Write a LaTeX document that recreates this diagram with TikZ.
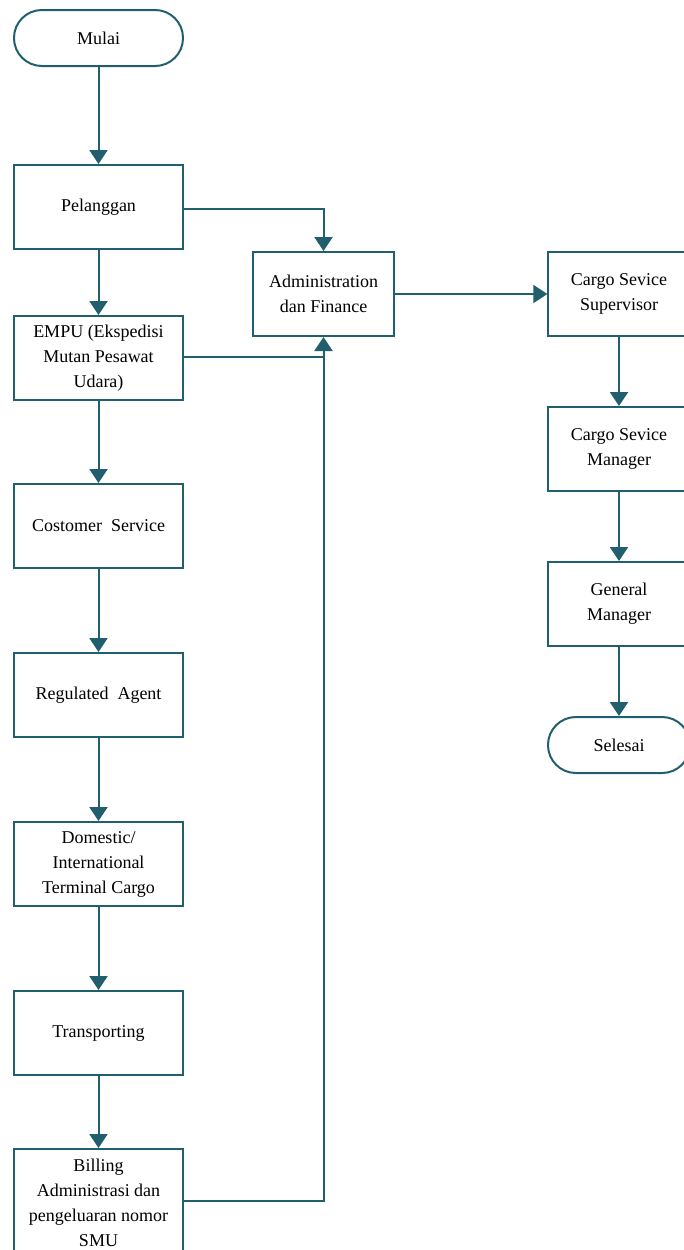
\documentclass[tikz,border=0pt]{standalone}
\usepackage{fontspec}
\setmainfont{Liberation Serif}
\usetikzlibrary{arrows.meta}
\definecolor{flowline}{RGB}{33,94,110}

\begin{document}
\begin{tikzpicture}[x=0.75pt,y=-0.75pt,
        font=\fontsize{13.5}{18.75}\selectfont,
        box/.style={draw=flowline,line width=1.5pt,minimum width=126.75pt,minimum height=63pt,inner sep=0pt,align=center},
        smallbox/.style={box,minimum width=106pt},
        terminal/.style={draw=flowline,line width=1.5pt,rounded corners=20.9pt,minimum height=42pt,inner sep=0pt,align=center},
        flow/.style={draw=flowline,line width=1.5pt,-{Triangle[width=13.5pt,length=10.5pt]}},
        link/.style={draw=flowline,line width=1.5pt}]
        \useasboundingbox (0,0) rectangle (683,1250);
        % left column
        \node[terminal,minimum width=126.75pt] (mulai) at (98.5,38) {Mulai};
        \node[box] (pelanggan) at (98.5,207) {Pelanggan};
        \node[box] (empu) at (98.5,358) {EMPU (Ekspedisi\\Mutan Pesawat\\Udara)};
        \node[box] (cs) at (98.5,526) {Costomer~ Service};
        \node[box] (ra) at (98.5,695) {Regulated~ Agent};
        \node[box] (terminalcargo) at (98.5,864) {Domestic/\\International\\Terminal Cargo};
        \node[box] (transport) at (98.5,1033) {Transporting};
        \node[box,minimum height=81pt] (billing) at (98.5,1203) {Billing\\Administrasi dan\\pengeluaran nomor\\SMU};
        % middle
        \node[smallbox] (admin) at (323.5,294) {Administration\\dan Finance};
        % right column
        \node[smallbox] (supervisor) at (619,294) {Cargo Sevice\\Supervisor};
        \node[smallbox] (manager) at (619,449) {Cargo Sevice\\Manager};
        \node[smallbox] (gm) at (619,604) {General\\Manager};
        \node[terminal,minimum width=106.5pt] (selesai) at (619,745) {Selesai};
        \coordinate (join) at (323.5,357);

        \draw[flow] (mulai) -- (pelanggan);
        \draw[flow] (pelanggan) -- (empu);
        \draw[flow] (empu) -- (cs);
        \draw[flow] (cs) -- (ra);
        \draw[flow] (ra) -- (terminalcargo);
        \draw[flow] (terminalcargo) -- (transport);
        \draw[flow] (transport) -- (billing);
        \draw[flow] ([yshift=-1.5pt]pelanggan.east) -| (admin.north);
        \draw[flow] ([yshift=0.75pt]empu.east) -| (admin.south);
        \draw[link] ([yshift=1.5pt]billing.east) -| (join);
        \draw[flow] (admin) -- (supervisor);
        \draw[flow] (supervisor) -- (manager);
        \draw[flow] (manager) -- (gm);
        \draw[flow] (gm) -- (selesai);
    \end{tikzpicture}
\end{document}
